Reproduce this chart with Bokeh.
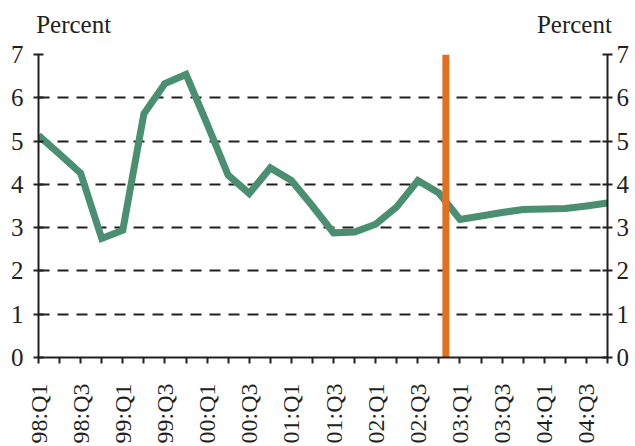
import math
from bokeh.plotting import figure
from bokeh.models import Range1d, LinearAxis, FixedTicker, ColumnDataSource
from bokeh.embed import file_html
from bokeh.resources import INLINE

# ---- data ----
quarters = ["98:Q1", "98:Q2", "98:Q3", "98:Q4",
            "99:Q1", "99:Q2", "99:Q3", "99:Q4",
            "00:Q1", "00:Q2", "00:Q3", "00:Q4",
            "01:Q1", "01:Q2", "01:Q3", "01:Q4",
            "02:Q1", "02:Q2", "02:Q3", "02:Q4",
            "03:Q1", "03:Q2", "03:Q3", "03:Q4",
            "04:Q1", "04:Q2", "04:Q3", "04:Q4"]
values = [5.13, 4.70, 4.26, 2.75,
          2.94, 5.63, 6.33, 6.54,
          5.40, 4.21, 3.79, 4.38,
          4.09, 3.50, 2.88, 2.90,
          3.08, 3.48, 4.09, 3.80,
          3.19, 3.27, 3.35, 3.42,
          3.43, 3.44, 3.50, 3.57]
shown_labels = ["98:Q1", "98:Q3", "99:Q1", "99:Q3", "00:Q1", "00:Q3", "01:Q1",
                "01:Q3", "02:Q1", "02:Q3", "03:Q1", "03:Q3", "04:Q1", "04:Q3"]
y_ticks = [0, 1, 2, 3, 4, 5, 6, 7]
unit_label = "Percent"
forecast_start = 19.33  # position of the vertical marker, in quarters from 98:Q1

INK = "#231F20"
GREEN = "#4B8F72"
ORANGE = "#E2701F"
FONT = "'Liberation Serif', 'Times New Roman', Times, serif"

xs = list(range(len(quarters)))
src = ColumnDataSource(dict(x=xs, y=values))

p = figure(output_backend="svg", toolbar_location=None,
           frame_width=569, frame_height=303,
           min_border_left=38, min_border_right=25,
           min_border_top=54, min_border_bottom=88,
           x_range=Range1d(0, len(quarters) - 1), y_range=Range1d(0, 7),
           background_fill_color="white", border_fill_color="white")
p.outline_line_color = None

# x axis
p.xaxis.ticker = FixedTicker(ticks=xs)
p.xaxis.major_label_overrides = {i: (q if q in shown_labels else "") for i, q in enumerate(quarters)}
p.xaxis.major_label_orientation = math.pi / 2
p.xaxis.major_label_text_font = FONT
p.xaxis.major_label_text_font_size = "24px"
p.xaxis.major_label_text_color = INK
p.xaxis.major_label_standoff = 20
p.xaxis.major_tick_in = 0
p.xaxis.major_tick_out = 6
p.xaxis.major_tick_line_width = 2
p.xaxis.major_tick_line_color = INK
p.xaxis.minor_tick_line_color = None
p.xaxis.axis_line_width = 2
p.xaxis.axis_line_color = INK

# y axes (left and right)
def style_y(ax, standoff):
    ax.ticker = FixedTicker(ticks=y_ticks)
    ax.major_label_text_font = FONT
    ax.major_label_text_font_size = "25px"
    ax.major_label_text_color = INK
    ax.major_label_standoff = standoff
    ax.major_tick_in = 5
    ax.major_tick_out = 5
    ax.major_tick_line_width = 2
    ax.major_tick_line_color = INK
    ax.minor_tick_line_color = None
    ax.axis_line_width = 2
    ax.axis_line_color = INK

style_y(p.yaxis[0], 10)
right_axis = LinearAxis()
style_y(right_axis, 4)
p.add_layout(right_axis, "right")

# unit labels above both y axes, drawn as an axis with no line or ticks
top_axis = LinearAxis(ticker=FixedTicker(ticks=[1.67, 25.43]),
                      major_label_overrides={1.67: unit_label, 25.43: unit_label})
top_axis.axis_line_color = None
top_axis.major_tick_line_color = None
top_axis.minor_tick_line_color = None
top_axis.major_tick_in = 0
top_axis.major_tick_out = 0
top_axis.major_label_standoff = 17
top_axis.major_label_text_font = FONT
top_axis.major_label_text_font_size = "25px"
top_axis.major_label_text_color = INK
p.add_layout(top_axis, "above")

# grid
p.xgrid.grid_line_color = None
p.ygrid.ticker = FixedTicker(ticks=y_ticks[1:])
p.ygrid.grid_line_color = INK
p.ygrid.grid_line_width = 2
p.ygrid.grid_line_dash = "11 8"

# series
p.line("x", "y", source=src, line_color=GREEN, line_width=7, line_join="miter")
p.segment(x0=[forecast_start], y0=[0], x1=[forecast_start], y1=[7],
          line_color=ORANGE, line_width=7)

open("out.html", "w").write(file_html(p, INLINE))
